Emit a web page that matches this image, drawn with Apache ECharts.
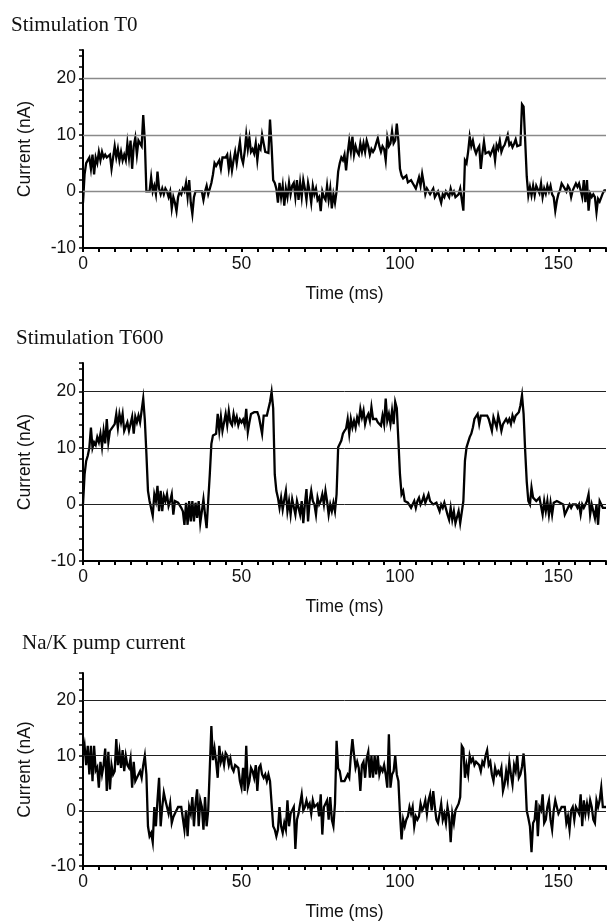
<!DOCTYPE html>
<html>
<head>
<meta charset="utf-8">
<script src="https://cdn.jsdelivr.net/npm/echarts@6/dist/echarts.min.js"></script>
<style>
html,body{margin:0;padding:0;background:#fff;}
#chart{width:609px;height:922px;}
</style>
</head>
<body>
<div id="chart"></div>
<script>
// Sampling interval of the recorded traces (ms)
const T_STEP = 0.5;

const panelTitles = ['Stimulation T0', 'Stimulation T600', 'Na/K pump current'];
const xLabelTicks = [0, 50, 100, 150];
const yLabelTicks = [-10, 0, 10, 20];
const gridLineValues = [0, 10, 20];

// Stimulation T0 current (nA), one value every 0.5 ms from 0 to 165 ms
const stimT0 = [
-2, 3, 5, 5.5, 6, 4, 6.5, 3, 6, 5,
7, 5.5, 7, 6, 6.5, 6, 6, 6.5, 4, 6,
8, 6, 7.5, 5.5, 7, 5.5, 6.5, 5.5, 8.5, 6,
9, 4, 8, 9.5, 6.5, 9, 8.5, 8, 13.5, 9,
0, 0, 0, 2.5, 0, 1, -0.5, 3.5, 0.5, -0.5,
0.5, -0.5, 0.5, 0, -1, 0, -3, -1, -2, -3.5,
-1, 0, -0.5, 0.5, 0, 1.5, -1, 2, -2, -4,
-1, 0, 0, 0, 0, 0, -1.5, 0, 1, -0.5,
-0.5, 1.5, 3, 5, 4.5, 5, 5.5, 4, 6, 6,
6, 6.5, 4, 6, 3.7, 5.5, 7, 5, 7, 8.8,
6, 5, 7, 10, 7.5, 9.5, 7, 7.5, 6.7, 8.5,
5.5, 8, 7.5, 10, 8.5, 7, 7.2, 6.8, 12.7, 8,
2, 1.5, 0.5, -2, 1.5, -1, 1, -2.5, 0.5, -1,
1.5, -0.5, 1, 1.5, -1, 2, -1.5, 1.5, -1, 2,
0.5, -1.5, 1.5, 0, -2, 1, -0.5, 0.5, -1.5, -1,
-3.5, 0, -1, -1.5, 1, -1.5, 0.5, -3, -0.5, -2,
0, 3.5, 5, 6, 5.5, 6.5, 3.7, 6.7, 9, 7,
9.7, 6.5, 8, 7, 6.5, 8.5, 7, 8.5, 7, 9,
8, 6.5, 7.5, 7, 7.5, 8.5, 9.4, 8, 7, 8,
7.5, 5.5, 9.5, 8, 8.5, 10.6, 8.5, 9, 12, 9,
4, 2.8, 2.3, 2, 2.8, 1.6, 1.4, 2, 1.5, 1,
0.5, 1.5, 2.5, 1, 3.1, 1.5, -0.5, 0.5, 0, -0.5,
-0.5, 0.5, -1, -0.5, 0, -1, -2, -0.5, -1, 0,
-0.5, -1, 0.5, -0.5, 0, -1, -1, -0.5, 0.5, 0.8,
-3.4, 5.5, 5, 7, 9.7, 8, 9, 7.5, 6.7, 7.5,
8, 4, 6.7, 8.8, 6.7, 6.5, 7, 6.4, 6.1, 7.8,
5.5, 8.2, 7.5, 9, 7, 7.8, 8.2, 8, 10, 8.2,
8.6, 7.8, 8.4, 9.2, 8, 8.3, 8.2, 15.4, 15, 9,
2.6, -0.7, 0.8, -0.7, 1, -0.7, 1, 1, -0.3, 1.4,
-1, 0.5, -0.4, 1, 0, 1, -0.5, -1, -3.4, -1.6,
-0.4, 0.2, 1.4, 1.6, 0.5, 0, 1, 0.5, -1, 0.2,
0.2, 1.4, 0.8, 1.4, 0.2, -1, 2, -1.9, 2, -3.4,
-0.4, -1, -0.5, -1, -3.7, -1.3, -1.8, -1.9, -0.3, 0.2,
0.2
];

// Stimulation T600 current (nA)
const stimT600 = [
0, 5.3, 7.7, 8.6, 10, 13.6, 10, 11, 10.5, 11.9,
11, 12.5, 10.2, 13, 10.8, 15.1, 11, 13, 13.4, 13.4,
14.2, 16, 13.6, 16, 14.5, 16, 13, 13, 14.5, 13,
13, 15.5, 12.5, 15.5, 14.5, 15.7, 14.5, 16.6, 18.7, 15,
9, 2.4, 0.6, 0.3, -2, 1.8, 0.6, 3.3, -1.2, 2.4,
-1.2, 1.5, 0.6, 1.8, -0.3, 0.6, 1.8, -1.8, 0.6, 0.3,
0.3, 0.6, -0.6, -1.2, -3.6, 0.3, -3.6, 0.6, -3, 0.6,
-3, 0.3, -2.4, 0.6, -3.3, -3.3, 0.9, -1.8, -4.2, 0.6,
5.3, 10.7, 12.2, 12.5, 12.5, 16, 13, 15.5, 13, 14.5,
16, 14, 16.5, 14.5, 14, 16, 14.5, 15.5, 14, 15,
14.5, 15, 14, 16.9, 12.8, 14.5, 16, 16.3, 16.3, 16,
16.3, 15.5, 15.7, 12.5, 15.7, 15.7, 15.7, 16, 18.1, 19.9,
17, 5.3, 2.4, 1.2, -0.6, 1.2, -0.9, 0.9, 2.4, -1.2,
0.6, -1.8, 0.9, 0.6, -1.8, 0.6, 0.3, -1.8, 0.6, -3.3,
0, 2.7, -3, 0.6, 2.4, 0.6, 0, -1.8, 1.2, 0,
0.6, 1.8, 0, 2.4, 0.6, -1.8, 0, -1.2, 0.3, -1.2,
1.8, 10.1, 10.7, 11.3, 12.5, 13, 13.4, 15.1, 12.5, 15.1,
13.6, 14.8, 13.6, 15.4, 14.5, 16.9, 15.4, 16.6, 14.2, 15.4,
16, 14.8, 17.2, 15.1, 15.4, 15.1, 14.5, 14.8, 13.9, 15.7,
14.2, 18.7, 14.8, 16, 14.2, 16.6, 14.2, 18.1, 17, 11.3,
5.3, 1.8, 2.4, 0.6, 0.3, 0.3, 0, -0.6, -0.6, 0.6,
-0.6, 0.6, 1.2, 0, 0.6, 1.5, 0.3, 0.6, 1.8, 0.6,
0.3, 0, 0.3, 0.3, 0, -1.2, 0, -0.6, 0.3, 0,
-1.8, -2.7, -0.6, -2.7, -1.2, -3.3, -3.3, -1.2, -3.3, -3.5,
0.6, 7.7, 10.1, 10.1, 11.9, 12.5, 13.6, 15.1, 15.1, 16,
14.2, 15.7, 16, 15.7, 15.4, 15.7, 15.1, 15.4, 13, 15.4,
15.7, 13.6, 15.7, 14.5, 13, 14.2, 13.9, 15.1, 14.5, 15.1,
14.2, 15.7, 14.8, 15.7, 16, 16.3, 17.5, 19.3, 16, 9.5,
4, 0.6, 0, 3, 1.2, 0.9, 0.6, 0.9, 1.2, 0.9,
-1.8, 0.6, -1.2, 0.6, -1.8, 0.3, -1.8, 0.3, 0.6, 0.6,
0.3, 0.3, 0, 0, -1.8, -1.2, -0.6, 0, -0.6, 0,
0, 0, -0.6, 0, -1.8, 0, -0.6, 0, 0.6, 1.8,
-1.8, 0, -0.3, -2.4, 0, -3.6, 0.6, 0, -0.6, -0.6,
-0.6
];

// Na/K pump current (nA)
const pumpCurrent = [
10, 11.8, 8.3, 11.8, 6.6, 11.8, 5.4, 11.8, 7.3, 7.9,
4.2, 8.9, 6.6, 8.3, 11.3, 3.6, 10.7, 3.9, 8.3, 6.6,
7.2, 13, 8.3, 10.7, 7.8, 11, 7.2, 10, 8.3, 7.8,
9.5, 4.2, 8.9, 5.4, 6, 6.6, 7.2, 6, 8.3, 10,
6.6, -2.8, -4.6, -4, -5.7, 0.7, -2.8, 1.9, 6, -2.8,
0.7, 3.3, 1.9, 0.7, -0.5, 1.3, -2.2, -1.1, -0.5, 0.1,
0.7, 0.7, 0.7, 0.7, -3.4, 0.1, -4.6, 0.7, -0.5, 2.5,
-2.8, 1.3, 3.9, -2.8, 1.9, 0.7, -3.4, 2.5, -2.8, 0.1,
0.1, 15.4, 9.2, 11.3, 8.9, 6, 11.8, 8.9, 10, 8.3,
10.5, 10, 8.3, 9.5, 7.8, 7.2, 8.3, 8.3, 7.8, 5.4,
4.2, 7.8, 3.6, 11.8, 4.2, 5.4, 7.8, 7.2, 6, 8.3,
3.6, 7.8, 8.3, 6.6, 6, 6.6, 5.4, 6.6, 5.4, 1.3,
-2.8, -3.4, -4.6, -3.4, 0.7, -2.8, -4, -2.2, -3.4, 1.9,
-2.8, -0.5, -0.5, 0.7, -6.9, -1.6, -0.5, 1.3, 3, 0.1,
0.7, 1.9, 0.7, 1.3, -0.5, 1.9, 0.7, 0.7, 1.3, -1.0,
3.0, -4.3, 0.7, 0.7, 1.9, -1.6, 2.5, -1.6, -2.8, 1.3,
12.7, 7.7, 7.2, 5.4, 5.7, 5.4, 5.4, 6.6, 6, 10,
13, 10.2, 7.8, 8.9, 7.8, 3.6, 8.3, 8.9, 6, 9.5,
10.7, 6, 10, 6, 10, 6.6, 10, 6.6, 7.8, 7.2,
8.3, 6.6, 4.2, 13.9, 4.2, 6.6, 7.2, 10, 6.6, 5.4,
-0.5, -5.2, -1.6, -2.8, -1.6, -1.0, 0.7, -0.5, 0.7, -2.8,
-1.0, -1.6, -1.0, 1.3, 0.1, 0.7, 1.9, -0.5, 1.9, 3,
0.1, 3.6, 0.7, -1.6, -2.2, -0.5, 1.3, -1.6, -0.5, -2.2,
0.7, -1.0, -5.7, -0.5, -2.2, 0.1, 0.7, 1.3, 2.5, 11.8,
11.3, 6, 8.3, 6.6, 10, 8.9, 9.5, 8.3, 8.9, 8.9,
8.3, 7.2, 8.9, 8.3, 10, 11, 8.3, 8.9, 6.6, 5.4,
7.8, 6.6, 7.2, 6.6, 7.8, 3.6, 4.8, 7.2, 5.4, 8.9,
6.6, 4.8, 8.3, 7.2, 10, 6, 6.6, 8, 10.4, 6.6,
0, -1.3, -2.8, -7.5, -2.2, -1.6, 1.9, -4.6, 0.7, 0.1,
3, -2.2, -1.6, 0.7, 1.9, -1.6, -3.4, 0.1, 1.9, 0.7,
-0.5, 0.1, 0.7, 0.7, 0.7, -2.2, -1.0, -3.4, 0.1, 0.7,
-1.6, 0.7, 0.1, -0.5, 3, -2.8, 1.9, -0.5, 1.3, -0.5,
1.9, 0.7, -1.6, -2.2, 1.9, 0.7, 1.9, 4.2, 0.7, 0.7,
0.7
];

const traces = [stimT0, stimT600, pumpCurrent];

const SANS = 'Liberation Sans, Arial, Helvetica, sans-serif';
const SERIF = 'Liberation Serif, Times New Roman, serif';

const layout = [
  { top: 50, height: 198, titleLeft: 11, titleTop: 15, gridColor: '#8a8a8a', gridWidth: 1.4 },
  { top: 363, height: 198, titleLeft: 16, titleTop: 328, gridColor: '#222', gridWidth: 1 },
  { top: 673, height: 199, titleLeft: 22, titleTop: 633, gridColor: '#222', gridWidth: 1 }
];

const option = {
  animation: false,
  backgroundColor: '#fff',
  title: [], grid: [], xAxis: [], yAxis: [], series: []
};

layout.forEach((L, k) => {
  option.title.push({
    text: panelTitles[k], left: L.titleLeft, top: L.titleTop, padding: 0,
    textStyle: { fontFamily: SERIF, fontSize: 21, fontWeight: 'normal', color: '#111' }
  });
  option.grid.push({ left: 83, top: L.top, width: 525, height: L.height });
  option.xAxis.push({
    gridIndex: k, type: 'value', min: 0, max: 165, interval: 5,
    name: 'Time (ms)', nameLocation: 'middle', nameGap: 37,
    nameTextStyle: { fontFamily: SANS, fontSize: 17.5, color: '#111' },
    axisLine: { show: true, onZero: false, lineStyle: { color: '#000', width: 2 } },
    axisTick: { show: true, length: 4, lineStyle: { color: '#000', width: 2 } },
    axisLabel: {
      margin: 7, fontFamily: SANS, fontSize: 17.5, color: '#111',
      formatter: v => xLabelTicks.includes(v) ? String(v) : ''
    },
    splitLine: { show: false }
  });
  option.yAxis.push({
    gridIndex: k, type: 'value', min: -10, max: 25, interval: 2,
    name: 'Current (nA)', nameLocation: 'middle', nameGap: 49, nameRotate: 90,
    nameTextStyle: { fontFamily: SANS, fontSize: 17.5, color: '#111' },
    axisLine: { show: true, onZero: false, lineStyle: { color: '#000', width: 2 } },
    axisTick: { show: true, length: 4, lineStyle: { color: '#000', width: 1.5 } },
    axisLabel: {
      margin: 7, fontFamily: SANS, fontSize: 17.5, color: '#111',
      formatter: v => yLabelTicks.includes(v) ? String(v) : ''
    },
    splitLine: { show: false }
  });
  // horizontal reference lines
  option.series.push({
    type: 'line', xAxisIndex: k, yAxisIndex: k, data: [], z: 1, silent: true,
    markLine: {
      silent: true, symbol: ['none', 'none'], label: { show: false },
      lineStyle: { color: L.gridColor, width: L.gridWidth, type: 'solid' },
      emphasis: { disabled: true },
      data: gridLineValues.map(v => ({ yAxis: v }))
    }
  });
  option.series.push({
    type: 'line', xAxisIndex: k, yAxisIndex: k, z: 3,
    showSymbol: false, symbol: 'none',
    lineStyle: { color: '#000', width: 2.3, join: 'miter' },
    data: traces[k].map((v, i) => [i * T_STEP, v])
  });
});

const chart = echarts.init(document.getElementById('chart'), null, { renderer: 'canvas' });
chart.setOption(option);
</script>
</body>
</html>
